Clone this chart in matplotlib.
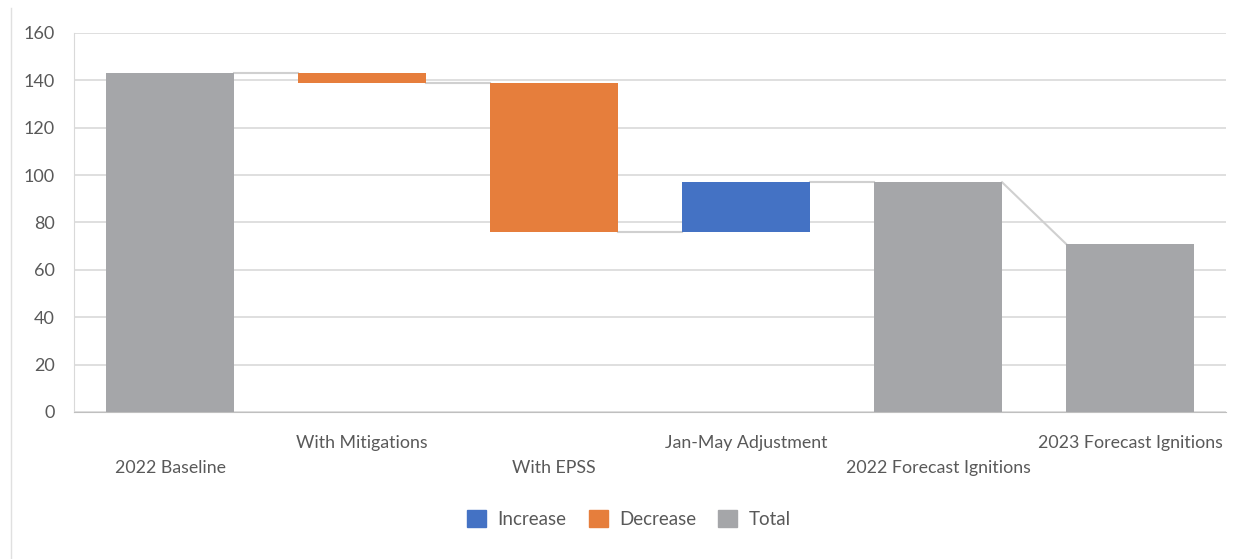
import numpy as np
import matplotlib
matplotlib.use('Agg')
import matplotlib.pyplot as plt
from matplotlib.patches import Patch
from matplotlib.lines import Line2D

CATEGORIES = ["2022 Baseline", "With Mitigations", "With EPSS",
              "Jan-May Adjustment", "2022 Forecast Ignitions", "2023 Forecast Ignitions"]
# step type and value of each step
KINDS = ["total", "decrease", "decrease", "increase", "total", "total"]
VALUES = [143, -4, -63, 21, 97, 71]
Y_TICKS = [0, 20, 40, 60, 80, 100, 120, 140, 160]

COLORS = {"increase": "#4472c4", "decrease": "#e67e3c", "total": "#a5a6a9"}
TEXT = "#595959"
GRID = "#d9d9d9"

plt.rcParams['font.family'] = ['Lato', 'DejaVu Sans']

fig = plt.figure(figsize=(12.38, 5.59), dpi=100)
ax = fig.add_axes([0.0598, 0.263, 0.9305, 0.678])

width = 0.667
bottoms, tops = [], []
level = 0
for kind, v in zip(KINDS, VALUES):
    if kind == "total":
        lo, hi = 0, v
        level = v
    else:
        new = level + v
        lo, hi = min(level, new), max(level, new)
        level = new
    bottoms.append(lo)
    tops.append(hi)

x = np.arange(len(CATEGORIES))
for i, kind in enumerate(KINDS):
    ax.bar(x[i], tops[i] - bottoms[i], bottom=bottoms[i], width=width,
           color=COLORS[kind], zorder=3)

# connector lines
level = 0
ends = []
for kind, v in zip(KINDS, VALUES):
    level = v if kind == "total" else level + v
    ends.append(level)
for i in range(len(CATEGORIES) - 1):
    y0 = ends[i]
    y1 = ends[i] if KINDS[i + 1] != "total" else VALUES[i + 1]
    ax.plot([x[i] + width / 2, x[i + 1] - width / 2], [y0, y1],
            color="#d0d0d0", lw=1.5, zorder=2)

ax.set_xlim(-0.5, len(CATEGORIES) - 0.5)
ax.set_ylim(0, 160)
ax.set_yticks(Y_TICKS)
ax.grid(axis='y', color=GRID, lw=1.2, zorder=0)
ax.tick_params(axis='y', length=0, labelsize=13, labelcolor=TEXT, pad=14)
ax.tick_params(axis='x', length=0)
ax.set_xticks(x)
ax.set_xticklabels([])
for i, lab in enumerate(CATEGORIES):
    yy = -0.083 if i % 2 else -0.147
    ax.text(x[i], yy, lab, transform=ax.get_xaxis_transform(), ha='center',
            va='center', fontsize=12.8, color=TEXT)
for s in ['top', 'right']:
    ax.spines[s].set_visible(False)
ax.spines['left'].set_color(GRID)
ax.spines['bottom'].set_color("#bfbfbf")

handles = [Patch(color=COLORS["increase"], label="Increase"),
           Patch(color=COLORS["decrease"], label="Decrease"),
           Patch(color=COLORS["total"], label="Total")]
fig.legend(handles=handles, loc='center', bbox_to_anchor=(0.508, 0.071), ncol=3,
           frameon=False, fontsize=13.5, labelcolor=TEXT, handlelength=1.0,
           handleheight=1.0, columnspacing=1.2, handletextpad=0.6)

fig.add_artist(Line2D([0.009, 0.009], [0.0, 0.985], transform=fig.transFigure,
                      color="#e0e0e0", lw=1))

fig.savefig("out.png", dpi=100)
